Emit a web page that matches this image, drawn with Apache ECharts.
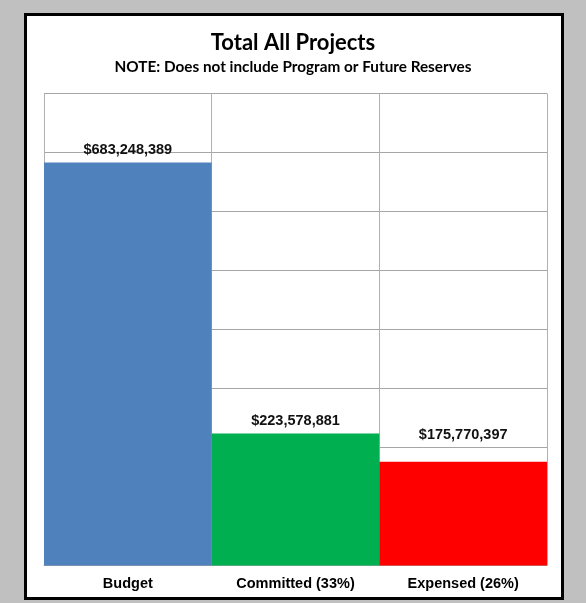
<!DOCTYPE html>
<html>
<head>
<meta charset="utf-8">
<style>
  html, body { margin: 0; padding: 0; background: #c0c0c0; }
  #chart { width: 586px; height: 603px; }
</style>
<script src="https://cdn.jsdelivr.net/npm/echarts@6/dist/echarts.min.js"></script>
</head>
<body>
<div id="chart"></div>
<script>
// Project totals
const categories = ['Budget', 'Committed (33%)', 'Expensed (26%)'];
const amounts = [683248389, 223578881, 175770397];
const barColors = ['#4f81bd', '#00b050', '#ff0000'];

// gap between each bar top and its amount label
const labelGaps = [5, 5, 19];

const fmt = v => '$' + v.toLocaleString('en-US');

const chart = echarts.init(document.getElementById('chart'), null, { renderer: 'canvas' });

chart.setOption({
  backgroundColor: '#c0c0c0',
  animation: false,
  graphic: [{
    type: 'rect',
    shape: { x: 25.5, y: 14.5, width: 537, height: 584 },
    style: { fill: '#ffffff', stroke: '#000000', lineWidth: 3 },
    z: -10
  }],
  title: {
    text: 'Total All Projects',
    subtext: 'NOTE: Does not include Program or Future Reserves',
    left: 'center',
    top: 27,
    itemGap: 6,
    textStyle: { fontFamily: 'Lato', fontWeight: 'bold', fontSize: 22, color: '#000' },
    subtextStyle: { fontFamily: 'Lato', fontWeight: 'bold', fontSize: 15.3, color: '#000' }
  },
  grid: { left: 44, right: 39, top: 93.5, bottom: 37.5, containLabel: false },
  xAxis: {
    type: 'category',
    data: categories,
    axisLine: { show: true, lineStyle: { color: '#a6a6a6', width: 1 } },
    axisTick: { show: false },
    axisLabel: {
      fontFamily: 'Liberation Sans', fontWeight: 'bold', fontSize: 14.5, color: '#000', margin: 11
    },
    splitLine: { show: true, lineStyle: { color: '#b0b0b0', width: 1 } }
  },
  yAxis: {
    type: 'value',
    min: 0,
    max: 800000000,
    interval: 100000000,
    axisLine: { show: false },
    axisTick: { show: false },
    axisLabel: { show: false },
    splitLine: { show: true, lineStyle: { color: '#a6a6a6', width: 1 } }
  },
  series: [{
    type: 'bar',
    barWidth: '100%',
    barCategoryGap: 0,
    data: amounts.map((v, i) => ({
      value: v,
      itemStyle: { color: barColors[i] },
      label: { distance: labelGaps[i] }
    })),
    label: {
      show: true,
      position: 'top',
      formatter: p => fmt(p.value),
      fontFamily: 'Liberation Sans', fontWeight: 'bold', fontSize: 14.5, color: '#111'
    }
  }]
});
</script>
</body>
</html>
